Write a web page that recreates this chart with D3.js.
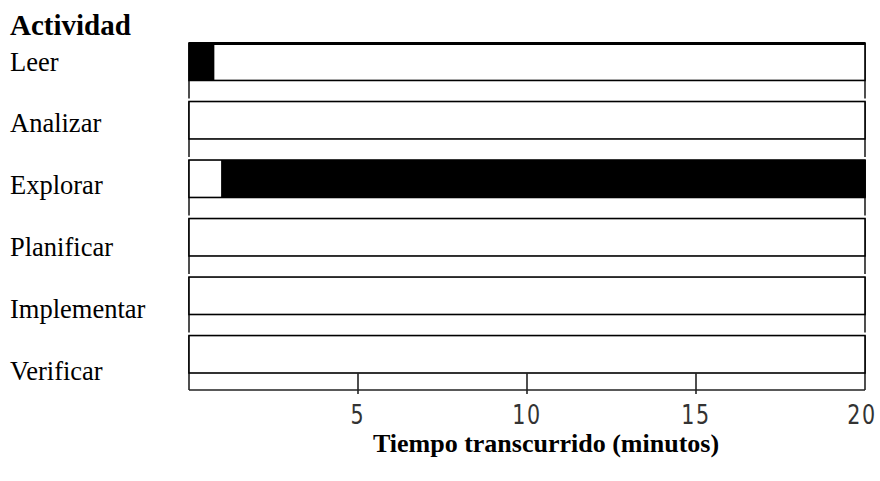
<!DOCTYPE html>
<html>
<head>
<meta charset="utf-8">
<script src="https://cdn.jsdelivr.net/npm/d3@7"></script>
<style>
  html, body { margin: 0; padding: 0; background: #fff; }
  svg { display: block; }
</style>
</head>
<body>
<svg id="chart" width="880" height="481"></svg>
<script>
// ---- data ----
const activities = ["Leer", "Analizar", "Explorar", "Planificar", "Implementar", "Verificar"];
// active (black) intervals in minutes, per activity
const activeStart = [0, null, 0.95, null, null, null];
const activeEnd   = [0.75, null, 20, null, null, null];
const tickValues = [5, 10, 15, 20];
const yTitle = "Actividad";
const xTitle = "Tiempo transcurrido (minutos)";

// ---- layout ----
const svg = d3.select("#chart");
const x = d3.scaleLinear().domain([0, 20]).range([189, 865]);
const y = d3.scaleBand().domain(activities).range([43, 373]).paddingInner(0.36).paddingOuter(0);
const yLab = d3.scalePoint().domain(activities).range([70.5, 380]);
const axisY = 390;

const serif = "'Liberation Serif', 'Times New Roman', serif";

// title
svg.append("text").attr("x", 10).attr("y", 35)
  .attr("font-family", serif).attr("font-weight", "bold").attr("font-size", 29)
  .text(yTitle);

// row labels
svg.selectAll("text.lab").data(activities).join("text").attr("class", "lab")
  .attr("x", 10).attr("y", d => yLab(d))
  .attr("font-family", serif).attr("font-size", 26.5)
  .text(d => d);

// per-row frame side lines
const rows = svg.append("g");
activities.forEach((a, i) => {
  const top = y(a);
  const bottom = i < activities.length - 1 ? y(activities[i + 1]) - 3 : axisY;
  [x(0), x(20)].forEach(xx => {
    rows.append("line").attr("x1", xx).attr("x2", xx).attr("y1", top).attr("y2", bottom)
      .attr("stroke", "#222").attr("stroke-width", 1.6);
  });
});

// bars (white outlined boxes)
svg.selectAll("rect.box").data(activities).join("rect").attr("class", "box")
  .attr("x", x(0)).attr("y", d => y(d))
  .attr("width", x(20) - x(0)).attr("height", y.bandwidth())
  .attr("fill", "#fff").attr("stroke", "#000").attr("stroke-width", 1.6);

// thick top line
svg.append("line").attr("x1", x(0)).attr("x2", x(20)).attr("y1", y(activities[0]) + 0.5).attr("y2", y(activities[0]) + 0.5)
  .attr("stroke", "#000").attr("stroke-width", 3);

// active segments
const segs = activities.map((a, i) => ({a, s: activeStart[i], e: activeEnd[i]})).filter(d => d.s !== null);
svg.selectAll("rect.act").data(segs).join("rect").attr("class", "act")
  .attr("x", d => x(d.s)).attr("y", d => y(d.a))
  .attr("width", d => x(d.e) - x(d.s) + (d.e === 20 ? 0.8 : 0)).attr("height", y.bandwidth())
  .attr("fill", "#000");

// x axis
const lastBottom = y(activities[activities.length - 1]) + y.bandwidth();
svg.append("line").attr("x1", x(0)).attr("x2", x(20)).attr("y1", axisY).attr("y2", axisY)
  .attr("stroke", "#222").attr("stroke-width", 1.6);
svg.selectAll("line.tick").data(tickValues.filter(v => v < 20)).join("line").attr("class", "tick")
  .attr("x1", d => x(d)).attr("x2", d => x(d)).attr("y1", lastBottom).attr("y2", axisY + 4)
  .attr("stroke", "#222").attr("stroke-width", 1.6);
svg.selectAll("text.tl").data(tickValues).join("text").attr("class", "tl")
  .attr("x", d => x(d)).attr("y", 424)
  .attr("text-anchor", d => d === 20 ? "end" : "middle")
  .attr("dx", d => d === 20 ? 14 : 0)
  .attr("font-family", "'DejaVu Sans Condensed', 'DejaVu Sans', sans-serif")
  .attr("font-size", 27).attr("letter-spacing", 2).attr("fill", "#333")
  .attr("transform", d => `translate(${x(d)},0) scale(0.85,1) translate(${-x(d)},0)`)
  .text(d => d);

svg.append("text").attr("x", 546).attr("y", 452).attr("text-anchor", "middle")
  .attr("font-family", serif).attr("font-weight", "bold").attr("font-size", 26)
  .text(xTitle);
</script>
</body>
</html>
